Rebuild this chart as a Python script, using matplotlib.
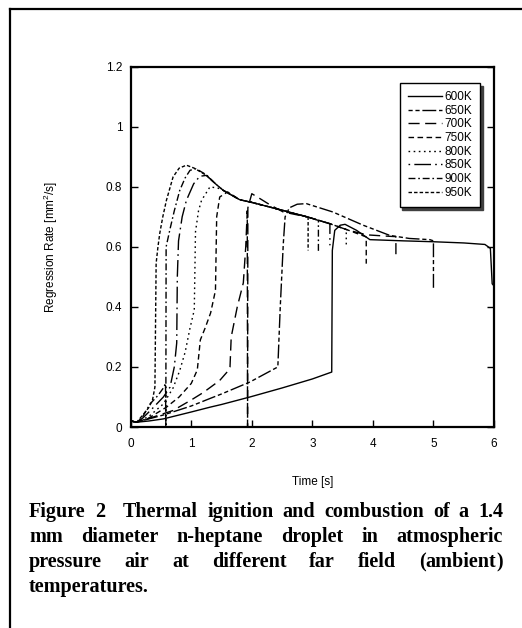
import matplotlib
matplotlib.use('Agg')
import matplotlib.pyplot as plt
from matplotlib.lines import Line2D

plt.rcParams['font.family'] = ['Liberation Sans', 'DejaVu Sans']
plt.rcParams['mathtext.fontset'] = 'custom'
plt.rcParams['mathtext.rm'] = 'Liberation Sans'

# ambient temperatures
labels = ['600K', '650K', '700K', '750K', '800K', '850K', '900K', '950K']

# time [s] / regression rate [mm2/s]
t_600 = [0, 0.1, 0.3, 0.54, 1.0, 1.31, 1.5, 1.97, 2.5, 3.0, 3.32, 3.33, 3.37, 3.46, 3.54, 3.73, 3.95, 4.5, 5.0, 5.5, 5.85, 5.94, 5.97, 6.0]
r_600 = [0.02, 0.016, 0.02, 0.027, 0.05, 0.066, 0.075, 0.1, 0.13, 0.16, 0.183, 0.588, 0.655, 0.672, 0.675, 0.655, 0.624, 0.62, 0.617, 0.613, 0.608, 0.595, 0.477, 0.47]

t_650 = [0, 0.1, 0.54, 1.0, 1.31, 1.5, 1.97, 2.2, 2.43, 2.47, 2.52, 2.55, 2.62, 2.75, 2.9, 3.34, 3.84, 4.28, 4.6, 4.94, 5.0, 5.0]
r_650 = [0.02, 0.016, 0.04, 0.07, 0.095, 0.11, 0.15, 0.175, 0.2, 0.4, 0.61, 0.70, 0.73, 0.742, 0.744, 0.716, 0.672, 0.638, 0.628, 0.624, 0.62, 0.457]

t_700 = [0, 0.1, 0.4, 0.7, 1.0, 1.2, 1.47, 1.6, 1.64, 1.66, 1.76, 1.86, 1.9, 1.925, 1.93, 1.935, 2.0, 2.1, 2.3, 2.52, 2.93, 3.29, 3.6, 3.9, 4.2, 4.38, 4.38]
r_700 = [0.02, 0.016, 0.035, 0.055, 0.09, 0.115, 0.155, 0.185, 0.2, 0.3, 0.40, 0.48, 0.60, 0.72, 0.0, 0.73, 0.777, 0.765, 0.74, 0.716, 0.699, 0.677, 0.655, 0.64, 0.636, 0.634, 0.557]

t_750 = [0, 0.1, 0.3, 0.59, 0.8, 1.0, 1.1, 1.15, 1.23, 1.32, 1.40, 1.42, 1.47, 1.6, 1.8, 2.0, 2.5, 2.93, 3.29, 3.6, 3.89, 3.89]
r_750 = [0.02, 0.016, 0.03, 0.066, 0.1, 0.145, 0.19, 0.29, 0.33, 0.38, 0.455, 0.70, 0.766, 0.783, 0.757, 0.748, 0.722, 0.699, 0.677, 0.655, 0.633, 0.544]

t_800 = [0, 0.1, 0.3, 0.54, 0.7, 0.81, 0.9, 0.98, 1.05, 1.07, 1.12, 1.17, 1.31, 1.45, 1.53, 1.8, 2.0, 2.5, 2.93, 3.29, 3.56, 3.56]
r_800 = [0.02, 0.016, 0.035, 0.077, 0.13, 0.188, 0.25, 0.33, 0.39, 0.65, 0.72, 0.755, 0.80, 0.795, 0.788, 0.757, 0.748, 0.722, 0.699, 0.677, 0.658, 0.597]

t_850 = [0, 0.1, 0.2, 0.35, 0.54, 0.65, 0.72, 0.76, 0.77, 0.79, 0.85, 0.92, 1.04, 1.14, 1.25, 1.4, 1.53, 1.8, 2.0, 2.5, 2.93, 3.29, 3.29]
r_850 = [0.02, 0.016, 0.03, 0.06, 0.1, 0.133, 0.2, 0.28, 0.5, 0.62, 0.70, 0.755, 0.81, 0.835, 0.838, 0.81, 0.788, 0.757, 0.748, 0.722, 0.699, 0.677, 0.605]

t_900 = [0, 0.1, 0.2, 0.32, 0.45, 0.54, 0.575, 0.58, 0.585, 0.65, 0.72, 0.81, 0.9, 0.98, 1.08, 1.25, 1.4, 1.53, 1.8, 2.0, 2.5, 2.93, 3.10, 3.10]
r_900 = [0.02, 0.016, 0.035, 0.077, 0.105, 0.13, 0.145, 0.0, 0.60, 0.66, 0.72, 0.788, 0.83, 0.855, 0.86, 0.84, 0.81, 0.788, 0.757, 0.748, 0.722, 0.699, 0.688, 0.583]

t_950 = [0, 0.1, 0.2, 0.3, 0.36, 0.40, 0.42, 0.45, 0.48, 0.53, 0.59, 0.70, 0.80, 0.92, 1.05, 1.25, 1.4, 1.53, 1.8, 2.0, 2.5, 2.93, 2.93]
r_950 = [0.02, 0.016, 0.04, 0.065, 0.09, 0.133, 0.545, 0.60, 0.645, 0.70, 0.755, 0.833, 0.862, 0.872, 0.862, 0.838, 0.81, 0.788, 0.757, 0.748, 0.722, 0.699, 0.588]

caption = ['Figure 2  Thermal ignition and combustion of a 1.4',
           'mm diameter n-heptane droplet in atmospheric',
           'pressure air at different far field (ambient)',
           'temperatures.']

series = [(t_600, r_600), (t_650, r_650), (t_700, r_700), (t_750, r_750),
          (t_800, r_800), (t_850, r_850), (t_900, r_900), (t_950, r_950)]
styles = ['-', (0, (3, 2, 3, 2, 10, 2)), (0, (8, 4)), (0, (4, 2.5)),
          (0, (1.2, 2.5)), (0, (1.2, 3, 12, 3)), (0, (5, 2, 1.2, 2)), (0, (2.5, 1.5))]

W, H = 522, 628
fig = plt.figure(figsize=(W / 100, H / 100), dpi=100)
ax = fig.add_axes([130.7 / W, 1 - 427 / H, 363.3 / W, 360.3 / H])

for (t, r), ls, lab in zip(series, styles, labels):
    ax.plot(t, r, color='black', lw=1.0, linestyle=ls, label=lab)

ax.set_xlim(0, 6)
ax.set_ylim(0, 1.2)
ax.set_xticks(range(7))
ax.set_yticks([0, 0.2, 0.4, 0.6, 0.8, 1.0, 1.2])
ax.set_yticklabels(['0', '0.2', '0.4', '0.6', '0.8', '1', '1.2'])
ax.tick_params(direction='in', length=5, width=1, right=True, labelsize=8.5)
ax.tick_params(axis='x', pad=8)
ax.tick_params(axis='y', pad=6)
for s in ax.spines.values():
    s.set_linewidth(1.6)

ax.set_xlabel('Time [s]', fontsize=8.5)
ax.xaxis.set_label_coords(0.5, -0.137)
ax.set_ylabel('Regression Rate [mm$^\\mathrm{2}$/s]', fontsize=8.5)
ax.yaxis.set_label_coords(-0.195, 0.5)

leg = ax.legend(loc='upper right', bbox_to_anchor=(0.962, 0.955), borderaxespad=0,
                fontsize=8.5, handlelength=2.9, handletextpad=0.17, labelspacing=0.14,
                borderpad=0.7, fancybox=False, edgecolor='black', framealpha=1,
                shadow={'color': '0.25', 'alpha': 1})
leg.get_frame().set_linewidth(1.0)

# outer frame
fig.add_artist(Line2D([10 / W, 10 / W], [0, 1 - 9 / H], color='black', lw=1.6, transform=fig.transFigure))
fig.add_artist(Line2D([10 / W, 1], [1 - 9 / H, 1 - 9 / H], color='black', lw=1.6, transform=fig.transFigure))

# justified caption, brackets drawn as own pieces so the words keep the baseline
rend = fig.canvas.get_renderer()
x0, x1, y0, dy = 29, 503, 517, 25
cap_kw = dict(family='Liberation Serif', fontweight='bold', fontsize=14.5, va='baseline')
space = fig.text(0, 0, 'a a', **cap_kw)
sw = space.get_window_extent(rend).width
aw = fig.text(0, 0, 'aa', **cap_kw)
sw = sw - aw.get_window_extent(rend).width
space.remove()
aw.remove()


def pieces(word):
    out = []
    if word.startswith('('):
        out.append('(')
        word = word[1:]
    tail = word.endswith(')')
    if tail:
        word = word[:-1]
    if word:
        out.append(word)
    if tail:
        out.append(')')
    return out


for i, line in enumerate(caption):
    words = line.split(' ')
    y = 1 - (y0 + i * dy) / H
    groups, widths = [], []
    for w in words:
        grp = []
        for p in pieces(w):
            tx = fig.text(0, y, p, **cap_kw)
            grp.append((tx, tx.get_window_extent(rend).width))
        groups.append(grp)
        widths.append(sum(g[1] for g in grp))
    if i == len(caption) - 1 or len(words) == 1:
        gap = sw
    else:
        gap = (x1 - x0 - sum(widths)) / (len(words) - 1)
    x = x0
    for grp, w in zip(groups, widths):
        xx = x
        for tx, pw in grp:
            tx.set_x(xx / W)
            xx += pw
        x += w + gap

fig.savefig('out.png', dpi=100)
